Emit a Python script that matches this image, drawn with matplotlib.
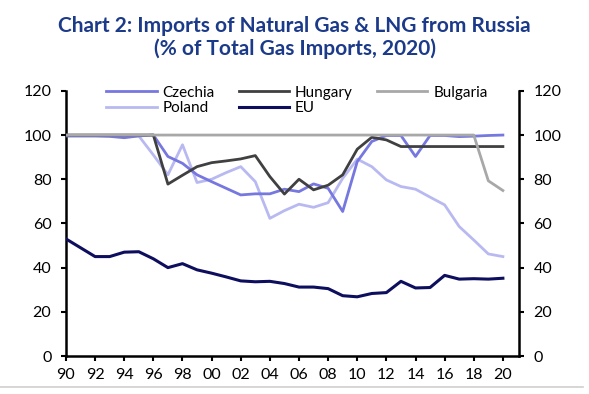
import matplotlib.pyplot as plt

years = list(range(1990, 2021))

czechia = [99.6, 99.6, 99.6, 99.4, 98.8, 99.6, 100, 90.3, 87.2, 82.0, 78.9, 75.9, 72.9, 73.4, 73.4,
           75.5, 74.4, 77.9, 75.9, 65.4, 88.0, 97.1, 99.8, 99.8, 90.3, 99.8, 99.8, 99.3, 99.5, 99.8, 100]
hungary = [100, 100, 100, 100, 100, 100, 100, 77.8, 81.8, 85.7, 87.5, 88.3, 89.2, 90.7, 81.2,
           73.3, 80.0, 75.2, 77.3, 82.0, 93.6, 99.0, 97.8, 94.8, 94.8, 94.8, 94.8, 94.8, 94.8, 94.8, 94.8]
bulgaria = [100] * 29 + [79.3, 74.9]
poland = [99.6, 99.6, 99.6, 99.6, 99.6, 99.6, 91.0, 82.0, 95.6, 78.5, 80.0, 83.0, 85.7, 78.9, 62.3,
          65.8, 68.7, 67.3, 69.4, 80.4, 89.1, 85.7, 79.7, 76.7, 75.5, 71.9, 68.4, 58.6, 52.5, 46.2, 45.0]
eu = [53.0, 49.0, 45.0, 45.0, 47.0, 47.2, 44.0, 40.0, 41.8, 39.0, 37.5, 35.8, 34.0, 33.6, 33.8,
      32.8, 31.2, 31.2, 30.5, 27.3, 26.8, 28.3, 28.7, 33.8, 30.8, 31.0, 36.5, 34.8, 35.0, 34.8, 35.2]

plt.rcParams['font.family'] = ['Lato', 'DejaVu Sans']

fig = plt.figure(figsize=(5.89, 3.94), dpi=100)
ax = fig.add_axes([0.112, 0.0964, 0.769, 0.673])

l_cz, = ax.plot(years, czechia, color='#7777E0', lw=2.0, label='Czechia', zorder=3)
l_hu, = ax.plot(years, hungary, color='#404040', lw=2.0, label='Hungary', zorder=3)
l_bg, = ax.plot(years, bulgaria, color='#A8A8A8', lw=2.0, label='Bulgaria', zorder=4)
l_pl, = ax.plot(years, poland, color='#B9B9F2', lw=2.0, label='Poland', zorder=2)
l_eu, = ax.plot(years, eu, color='#0E0E5E', lw=2.2, label='EU', zorder=5)

ax.set_xlim(1990, 2021.1)
ax.set_ylim(0, 120)
ax.set_yticks(range(0, 121, 20))
ax.set_xticks(years[::2])
ax.set_xticklabels([str(y)[2:] for y in years[::2]])

ax.spines['top'].set_visible(False)
for s in ['left', 'right', 'bottom']:
    ax.spines[s].set_linewidth(1.8)
ax.tick_params(axis='both', direction='out', length=3.5, width=1.5, labelsize=11.5)
ax.tick_params(axis='y', pad=7, right=True, labelright=True)
ax.tick_params(axis='x', pad=5)

# row-wise legend order: Czechia, Hungary, Bulgaria / Poland, EU
ax.legend([l_cz, l_pl, l_hu, l_eu, l_bg], ['Czechia', 'Poland', 'Hungary', 'EU', 'Bulgaria'],
          loc='upper left', bbox_to_anchor=(0.065, 1.06), ncol=3, frameon=False,
          fontsize=11, handlelength=3.3, columnspacing=1.55, labelspacing=0.1,
          handletextpad=0.4, borderpad=0.2)

fig.text(0.5, 0.96, 'Chart 2: Imports of Natural Gas & LNG from Russia\n(% of Total Gas Imports, 2020)',
         ha='center', va='top', fontsize=15, fontweight='bold', color='#1B3A8A', linespacing=1.15)

fig.add_artist(plt.Line2D([0.0, 0.99], [0.017, 0.017], color='#CFCFCF', lw=1.2))

fig.savefig('out.png', dpi=100)
